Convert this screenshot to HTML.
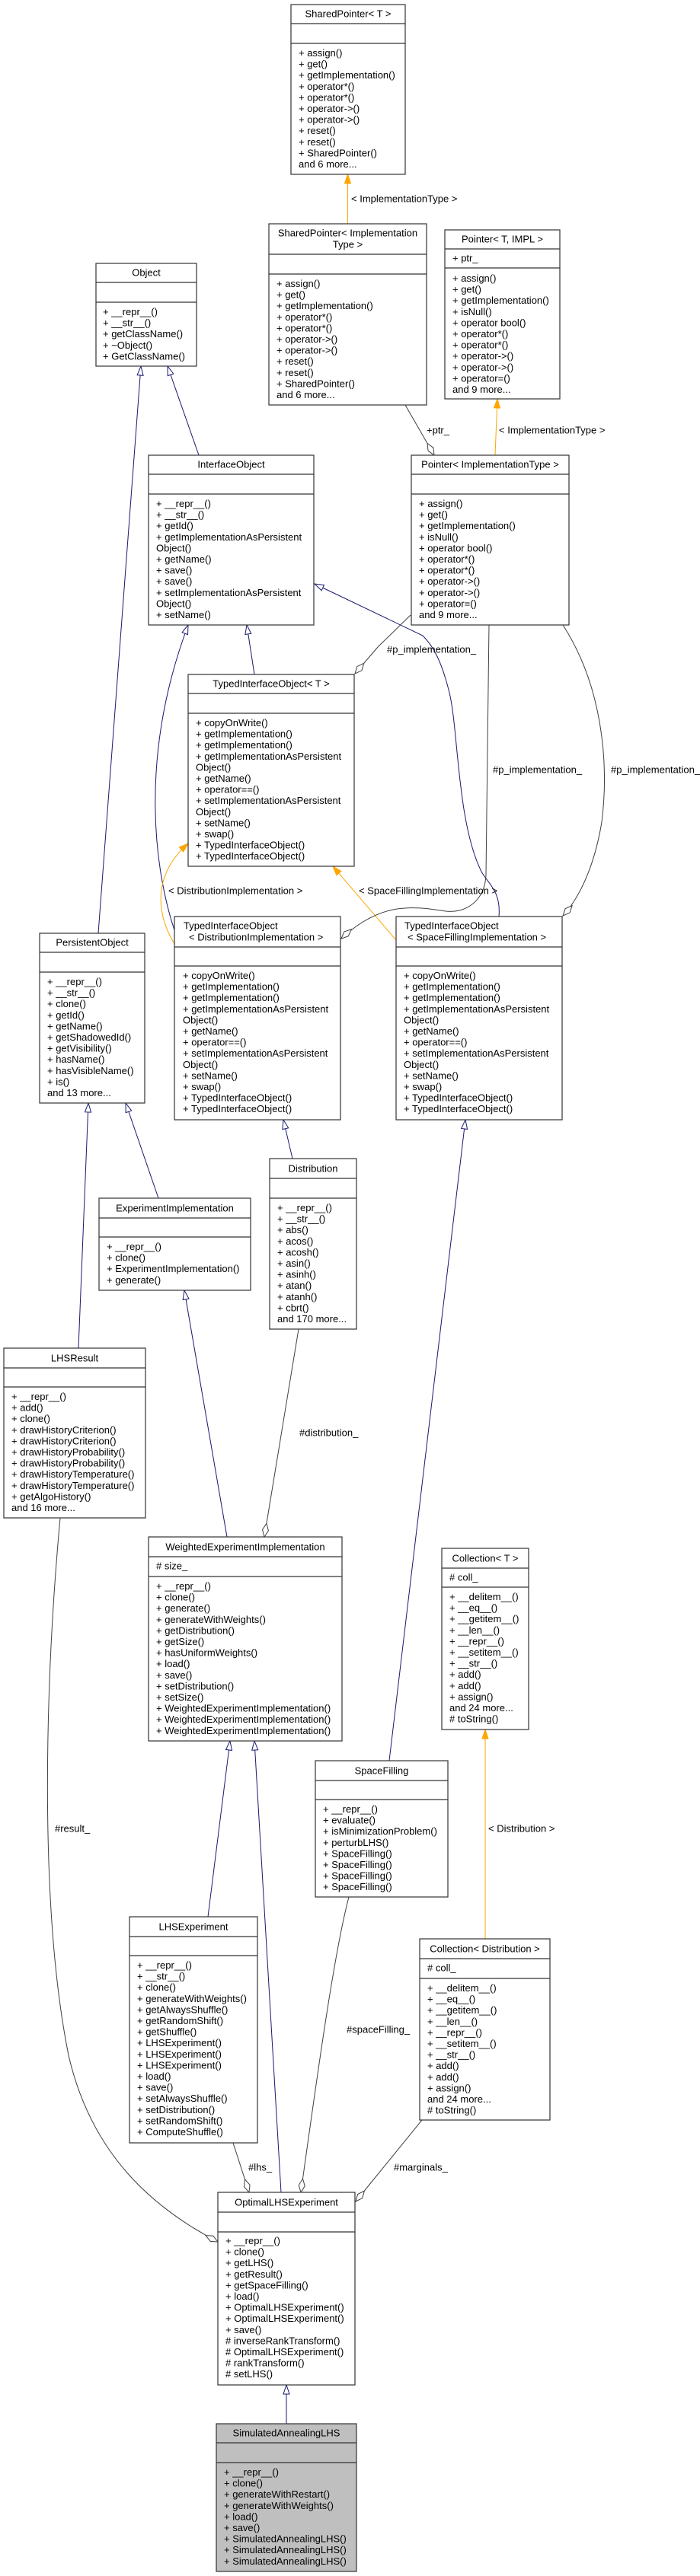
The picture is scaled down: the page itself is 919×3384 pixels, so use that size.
<!DOCTYPE html>
<html><head><meta charset="utf-8">
<style>
html,body{margin:0;padding:0;background:#fff;}
svg{display:block;}
text{font-family:"Liberation Sans",Arial,sans-serif;font-size:13px;fill:#000;dominant-baseline:central;}
.b{fill:#fff;stroke:#333;stroke-width:1.2;}
.g{fill:#bfbfbf;stroke:#333;stroke-width:1.2;}
.s{stroke:#333;stroke-width:1.2;}
.n{fill:none;stroke:#191970;stroke-width:1;}
.o{fill:none;stroke:#ffa500;stroke-width:1;}
.m{fill:none;stroke:#404040;stroke-width:1;}
</style></head><body>
<svg width="919" height="3384" viewBox="0 0 919 3384" xmlns="http://www.w3.org/2000/svg">
<defs>
<marker id="tri" viewBox="0 0 14 10" refX="13" refY="5" markerWidth="14" markerHeight="10" markerUnits="userSpaceOnUse" orient="auto"><path d="M1,1 L13,5 L1,9 Z" fill="#fff" stroke="#191970" stroke-width="1"/></marker>
<marker id="otri" viewBox="0 0 14 10" refX="13" refY="5" markerWidth="14" markerHeight="10" markerUnits="userSpaceOnUse" orient="auto"><path d="M1,1 L13,5 L1,9 Z" fill="#ffa500" stroke="#ffa500" stroke-width="1"/></marker>
<marker id="dia" viewBox="0 0 20 10" refX="19" refY="5" markerWidth="20" markerHeight="10" markerUnits="userSpaceOnUse" orient="auto"><path d="M1,5 L10,1 L19,5 L10,9 Z" fill="#fff" stroke="#404040" stroke-width="1"/></marker>
</defs>

<!-- edges: navy inheritance -->
<path class="n" marker-end="url(#tri)" d="M129,1226 L185,481"/>
<path class="n" marker-end="url(#tri)" d="M261,598 L220,481"/>
<path class="n" marker-end="url(#tri)" d="M334,886 L324,821"/>
<path class="n" marker-end="url(#tri)" d="M229,1222 C205,1150 180,1000 247,821"/>
<path class="n" marker-end="url(#tri)" d="M655,1204 C658,1170 640,1160 632,1145 C600,1080 602,960 590,910 C580,870 570,850 555,835 L413,767"/>
<path class="n" marker-end="url(#tri)" d="M384,1522 L372,1471"/>
<path class="n" marker-end="url(#tri)" d="M208,1574 L165,1449"/>
<path class="n" marker-end="url(#tri)" d="M103,1771 L116,1449"/>
<path class="n" marker-end="url(#tri)" d="M511,2313 L611,1471"/>
<path class="n" marker-end="url(#tri)" d="M298,2019 L242,1695"/>
<path class="n" marker-end="url(#tri)" d="M273,2518 L302,2287"/>
<path class="n" marker-end="url(#tri)" d="M369,2880 L334,2287"/>
<path class="n" marker-end="url(#tri)" d="M376,3184 L376,3133"/>

<!-- orange template -->
<path class="o" marker-end="url(#otri)" d="M456.5,294 L456.5,229"/>
<path class="o" marker-end="url(#otri)" d="M650,598 L653,524"/>
<path class="o" marker-end="url(#otri)" d="M229,1240 C205,1200 200,1150 247,1108"/>
<path class="o" marker-end="url(#otri)" d="M520,1235 L437,1138"/>
<path class="o" marker-end="url(#otri)" d="M637,2547 L637,2272"/>

<!-- member -->
<path class="m" marker-end="url(#dia)" d="M532,532 L570,598"/>
<path class="m" marker-end="url(#dia)" d="M539,808 L496,850 L466,885"/>
<path class="m" marker-end="url(#dia)" d="M642,821 L638,1150 C636,1185 610,1200 585,1197 C540,1190 500,1185 448,1233"/>
<path class="m" marker-end="url(#dia)" d="M739,821 C790,900 800,1000 790,1080 C780,1140 760,1180 739,1203"/>
<path class="m" marker-end="url(#dia)" d="M392,1746 L347,2019"/>
<path class="m" marker-end="url(#dia)" d="M79,1994 C60,2200 50,2500 90,2700 C120,2830 200,2900 286,2945"/>
<path class="m" marker-end="url(#dia)" d="M458,2492 C440,2560 420,2700 395,2880"/>
<path class="m" marker-end="url(#dia)" d="M306,2815 L327,2880"/>
<path class="m" marker-end="url(#dia)" d="M554,2785 L467,2892"/>

<!-- edge labels -->
<text x="461" y="261">&lt; ImplementationType &gt;</text>
<text x="655" y="565">&lt; ImplementationType &gt;</text>
<text x="560" y="565">+ptr_</text>
<text x="508" y="853">#p_implementation_</text>
<text x="647" y="1011">#p_implementation_</text>
<text x="802" y="1011">#p_implementation_</text>
<text x="221" y="1170">&lt; DistributionImplementation &gt;</text>
<text x="471" y="1170">&lt; SpaceFillingImplementation &gt;</text>
<text x="393" y="1882">#distribution_</text>
<text x="72" y="2402">#result_</text>
<text x="641" y="2402">&lt; Distribution &gt;</text>
<text x="455" y="2666">#spaceFilling_</text>
<text x="326" y="2847">#lhs_</text>
<text x="517" y="2847">#marginals_</text>

<!-- 1 SharedPointer<T> -->
<rect class="b" x="382" y="6" width="150" height="223"/>
<line class="s" x1="382" y1="31" x2="532" y2="31"/><line class="s" x1="382" y1="57" x2="532" y2="57"/>
<text x="457" y="18" text-anchor="middle">SharedPointer&lt; T &gt;</text>
<text x="392" y="69"><tspan x="392">+ assign()</tspan><tspan x="392" dy="14.6">+ get()</tspan><tspan x="392" dy="14.6">+ getImplementation()</tspan><tspan x="392" dy="14.6">+ operator*()</tspan><tspan x="392" dy="14.6">+ operator*()</tspan><tspan x="392" dy="14.6">+ operator-&gt;()</tspan><tspan x="392" dy="14.6">+ operator-&gt;()</tspan><tspan x="392" dy="14.6">+ reset()</tspan><tspan x="392" dy="14.6">+ reset()</tspan><tspan x="392" dy="14.6">+ SharedPointer()</tspan><tspan x="392" dy="14.6">and 6 more...</tspan></text>

<!-- 2 SharedPointer<Impl> -->
<rect class="b" x="353" y="294" width="207" height="238"/>
<line class="s" x1="353" y1="334" x2="560" y2="334"/><line class="s" x1="353" y1="360" x2="560" y2="360"/>
<text x="456.5" y="306" text-anchor="middle">SharedPointer&lt; Implementation</text>
<text x="456.5" y="321" text-anchor="middle">Type &gt;</text>
<text x="363" y="372"><tspan x="363">+ assign()</tspan><tspan x="363" dy="14.6">+ get()</tspan><tspan x="363" dy="14.6">+ getImplementation()</tspan><tspan x="363" dy="14.6">+ operator*()</tspan><tspan x="363" dy="14.6">+ operator*()</tspan><tspan x="363" dy="14.6">+ operator-&gt;()</tspan><tspan x="363" dy="14.6">+ operator-&gt;()</tspan><tspan x="363" dy="14.6">+ reset()</tspan><tspan x="363" dy="14.6">+ reset()</tspan><tspan x="363" dy="14.6">+ SharedPointer()</tspan><tspan x="363" dy="14.6">and 6 more...</tspan></text>

<!-- 3 Pointer<T, IMPL> -->
<rect class="b" x="584" y="302" width="151" height="222"/>
<line class="s" x1="584" y1="327" x2="735" y2="327"/><line class="s" x1="584" y1="352" x2="735" y2="352"/>
<text x="659.5" y="314" text-anchor="middle">Pointer&lt; T, IMPL &gt;</text>
<text x="594" y="339">+ ptr_</text>
<text x="594" y="365"><tspan x="594">+ assign()</tspan><tspan x="594" dy="14.6">+ get()</tspan><tspan x="594" dy="14.6">+ getImplementation()</tspan><tspan x="594" dy="14.6">+ isNull()</tspan><tspan x="594" dy="14.6">+ operator bool()</tspan><tspan x="594" dy="14.6">+ operator*()</tspan><tspan x="594" dy="14.6">+ operator*()</tspan><tspan x="594" dy="14.6">+ operator-&gt;()</tspan><tspan x="594" dy="14.6">+ operator-&gt;()</tspan><tspan x="594" dy="14.6">+ operator=()</tspan><tspan x="594" dy="14.6">and 9 more...</tspan></text>

<!-- 4 Object -->
<rect class="b" x="126" y="346" width="132" height="135"/>
<line class="s" x1="126" y1="371" x2="258" y2="371"/><line class="s" x1="126" y1="397" x2="258" y2="397"/>
<text x="192" y="358" text-anchor="middle">Object</text>
<text x="135" y="409"><tspan x="135">+ __repr__()</tspan><tspan x="135" dy="14.6">+ __str__()</tspan><tspan x="135" dy="14.6">+ getClassName()</tspan><tspan x="135" dy="14.6">+ ~Object()</tspan><tspan x="135" dy="14.6">+ GetClassName()</tspan></text>

<!-- 5 InterfaceObject -->
<rect class="b" x="195" y="598" width="217" height="223"/>
<line class="s" x1="195" y1="623" x2="412" y2="623"/><line class="s" x1="195" y1="649" x2="412" y2="649"/>
<text x="303.5" y="610" text-anchor="middle">InterfaceObject</text>
<text x="205" y="661"><tspan x="205">+ __repr__()</tspan><tspan x="205" dy="14.6">+ __str__()</tspan><tspan x="205" dy="14.6">+ getId()</tspan><tspan x="205" dy="14.6">+ getImplementationAsPersistent</tspan><tspan x="205" dy="14.6">Object()</tspan><tspan x="205" dy="14.6">+ getName()</tspan><tspan x="205" dy="14.6">+ save()</tspan><tspan x="205" dy="14.6">+ save()</tspan><tspan x="205" dy="14.6">+ setImplementationAsPersistent</tspan><tspan x="205" dy="14.6">Object()</tspan><tspan x="205" dy="14.6">+ setName()</tspan></text>

<!-- 6 Pointer<ImplementationType> -->
<rect class="b" x="540" y="598" width="207" height="223"/>
<line class="s" x1="540" y1="623" x2="747" y2="623"/><line class="s" x1="540" y1="649" x2="747" y2="649"/>
<text x="643.5" y="610" text-anchor="middle">Pointer&lt; ImplementationType &gt;</text>
<text x="550" y="661"><tspan x="550">+ assign()</tspan><tspan x="550" dy="14.6">+ get()</tspan><tspan x="550" dy="14.6">+ getImplementation()</tspan><tspan x="550" dy="14.6">+ isNull()</tspan><tspan x="550" dy="14.6">+ operator bool()</tspan><tspan x="550" dy="14.6">+ operator*()</tspan><tspan x="550" dy="14.6">+ operator*()</tspan><tspan x="550" dy="14.6">+ operator-&gt;()</tspan><tspan x="550" dy="14.6">+ operator-&gt;()</tspan><tspan x="550" dy="14.6">+ operator=()</tspan><tspan x="550" dy="14.6">and 9 more...</tspan></text>

<!-- 7 TypedInterfaceObject<T> -->
<rect class="b" x="247" y="886" width="218" height="252"/>
<line class="s" x1="247" y1="911" x2="465" y2="911"/><line class="s" x1="247" y1="937" x2="465" y2="937"/>
<text x="356" y="898" text-anchor="middle">TypedInterfaceObject&lt; T &gt;</text>
<text x="257" y="949"><tspan x="257">+ copyOnWrite()</tspan><tspan x="257" dy="14.6">+ getImplementation()</tspan><tspan x="257" dy="14.6">+ getImplementation()</tspan><tspan x="257" dy="14.6">+ getImplementationAsPersistent</tspan><tspan x="257" dy="14.6">Object()</tspan><tspan x="257" dy="14.6">+ getName()</tspan><tspan x="257" dy="14.6">+ operator==()</tspan><tspan x="257" dy="14.6">+ setImplementationAsPersistent</tspan><tspan x="257" dy="14.6">Object()</tspan><tspan x="257" dy="14.6">+ setName()</tspan><tspan x="257" dy="14.6">+ swap()</tspan><tspan x="257" dy="14.6">+ TypedInterfaceObject()</tspan><tspan x="257" dy="14.6">+ TypedInterfaceObject()</tspan></text>

<!-- 8 TIO<Dist> -->
<rect class="b" x="229" y="1204" width="218" height="267"/>
<line class="s" x1="229" y1="1244" x2="447" y2="1244"/><line class="s" x1="229" y1="1269" x2="447" y2="1269"/>
<text x="241" y="1216">TypedInterfaceObject</text>
<text x="248" y="1231">&lt; DistributionImplementation &gt;</text>
<text x="240" y="1281"><tspan x="240">+ copyOnWrite()</tspan><tspan x="240" dy="14.6">+ getImplementation()</tspan><tspan x="240" dy="14.6">+ getImplementation()</tspan><tspan x="240" dy="14.6">+ getImplementationAsPersistent</tspan><tspan x="240" dy="14.6">Object()</tspan><tspan x="240" dy="14.6">+ getName()</tspan><tspan x="240" dy="14.6">+ operator==()</tspan><tspan x="240" dy="14.6">+ setImplementationAsPersistent</tspan><tspan x="240" dy="14.6">Object()</tspan><tspan x="240" dy="14.6">+ setName()</tspan><tspan x="240" dy="14.6">+ swap()</tspan><tspan x="240" dy="14.6">+ TypedInterfaceObject()</tspan><tspan x="240" dy="14.6">+ TypedInterfaceObject()</tspan></text>

<!-- 9 TIO<SF> -->
<rect class="b" x="520" y="1204" width="218" height="267"/>
<line class="s" x1="520" y1="1244" x2="738" y2="1244"/><line class="s" x1="520" y1="1269" x2="738" y2="1269"/>
<text x="531" y="1216">TypedInterfaceObject</text>
<text x="535" y="1231">&lt; SpaceFillingImplementation &gt;</text>
<text x="530" y="1281"><tspan x="530">+ copyOnWrite()</tspan><tspan x="530" dy="14.6">+ getImplementation()</tspan><tspan x="530" dy="14.6">+ getImplementation()</tspan><tspan x="530" dy="14.6">+ getImplementationAsPersistent</tspan><tspan x="530" dy="14.6">Object()</tspan><tspan x="530" dy="14.6">+ getName()</tspan><tspan x="530" dy="14.6">+ operator==()</tspan><tspan x="530" dy="14.6">+ setImplementationAsPersistent</tspan><tspan x="530" dy="14.6">Object()</tspan><tspan x="530" dy="14.6">+ setName()</tspan><tspan x="530" dy="14.6">+ swap()</tspan><tspan x="530" dy="14.6">+ TypedInterfaceObject()</tspan><tspan x="530" dy="14.6">+ TypedInterfaceObject()</tspan></text>

<!-- 10 PersistentObject -->
<rect class="b" x="52" y="1226" width="138" height="223"/>
<line class="s" x1="52" y1="1251" x2="190" y2="1251"/><line class="s" x1="52" y1="1277" x2="190" y2="1277"/>
<text x="121" y="1238" text-anchor="middle">PersistentObject</text>
<text x="62" y="1289"><tspan x="62">+ __repr__()</tspan><tspan x="62" dy="14.6">+ __str__()</tspan><tspan x="62" dy="14.6">+ clone()</tspan><tspan x="62" dy="14.6">+ getId()</tspan><tspan x="62" dy="14.6">+ getName()</tspan><tspan x="62" dy="14.6">+ getShadowedId()</tspan><tspan x="62" dy="14.6">+ getVisibility()</tspan><tspan x="62" dy="14.6">+ hasName()</tspan><tspan x="62" dy="14.6">+ hasVisibleName()</tspan><tspan x="62" dy="14.6">+ is()</tspan><tspan x="62" dy="14.6">and 13 more...</tspan></text>

<!-- 11 Distribution -->
<rect class="b" x="354" y="1522" width="114" height="224"/>
<line class="s" x1="354" y1="1548" x2="468" y2="1548"/><line class="s" x1="354" y1="1574" x2="468" y2="1574"/>
<text x="411" y="1535" text-anchor="middle">Distribution</text>
<text x="364" y="1586"><tspan x="364">+ __repr__()</tspan><tspan x="364" dy="14.6">+ __str__()</tspan><tspan x="364" dy="14.6">+ abs()</tspan><tspan x="364" dy="14.6">+ acos()</tspan><tspan x="364" dy="14.6">+ acosh()</tspan><tspan x="364" dy="14.6">+ asin()</tspan><tspan x="364" dy="14.6">+ asinh()</tspan><tspan x="364" dy="14.6">+ atan()</tspan><tspan x="364" dy="14.6">+ atanh()</tspan><tspan x="364" dy="14.6">+ cbrt()</tspan><tspan x="364" dy="14.6">and 170 more...</tspan></text>

<!-- 12 ExperimentImplementation -->
<rect class="b" x="130" y="1574" width="199" height="121"/>
<line class="s" x1="130" y1="1600" x2="329" y2="1600"/><line class="s" x1="130" y1="1625" x2="329" y2="1625"/>
<text x="229.5" y="1587" text-anchor="middle">ExperimentImplementation</text>
<text x="140" y="1637"><tspan x="140">+ __repr__()</tspan><tspan x="140" dy="14.6">+ clone()</tspan><tspan x="140" dy="14.6">+ ExperimentImplementation()</tspan><tspan x="140" dy="14.6">+ generate()</tspan></text>

<!-- 13 LHSResult -->
<rect class="b" x="5" y="1771" width="186" height="223"/>
<line class="s" x1="5" y1="1797" x2="191" y2="1797"/><line class="s" x1="5" y1="1822" x2="191" y2="1822"/>
<text x="98" y="1784" text-anchor="middle">LHSResult</text>
<text x="15" y="1834"><tspan x="15">+ __repr__()</tspan><tspan x="15" dy="14.6">+ add()</tspan><tspan x="15" dy="14.6">+ clone()</tspan><tspan x="15" dy="14.6">+ drawHistoryCriterion()</tspan><tspan x="15" dy="14.6">+ drawHistoryCriterion()</tspan><tspan x="15" dy="14.6">+ drawHistoryProbability()</tspan><tspan x="15" dy="14.6">+ drawHistoryProbability()</tspan><tspan x="15" dy="14.6">+ drawHistoryTemperature()</tspan><tspan x="15" dy="14.6">+ drawHistoryTemperature()</tspan><tspan x="15" dy="14.6">+ getAlgoHistory()</tspan><tspan x="15" dy="14.6">and 16 more...</tspan></text>

<!-- 14 WeightedExperimentImplementation -->
<rect class="b" x="195" y="2019" width="254" height="268"/>
<line class="s" x1="195" y1="2045" x2="449" y2="2045"/><line class="s" x1="195" y1="2071" x2="449" y2="2071"/>
<text x="322" y="2032" text-anchor="middle">WeightedExperimentImplementation</text>
<text x="205" y="2057"># size_</text>
<text x="205" y="2083"><tspan x="205">+ __repr__()</tspan><tspan x="205" dy="14.6">+ clone()</tspan><tspan x="205" dy="14.6">+ generate()</tspan><tspan x="205" dy="14.6">+ generateWithWeights()</tspan><tspan x="205" dy="14.6">+ getDistribution()</tspan><tspan x="205" dy="14.6">+ getSize()</tspan><tspan x="205" dy="14.6">+ hasUniformWeights()</tspan><tspan x="205" dy="14.6">+ load()</tspan><tspan x="205" dy="14.6">+ save()</tspan><tspan x="205" dy="14.6">+ setDistribution()</tspan><tspan x="205" dy="14.6">+ setSize()</tspan><tspan x="205" dy="14.6">+ WeightedExperimentImplementation()</tspan><tspan x="205" dy="14.6">+ WeightedExperimentImplementation()</tspan><tspan x="205" dy="14.6">+ WeightedExperimentImplementation()</tspan></text>

<!-- 15 Collection<T> -->
<rect class="b" x="580" y="2034" width="114" height="238"/>
<line class="s" x1="580" y1="2060" x2="694" y2="2060"/><line class="s" x1="580" y1="2085" x2="694" y2="2085"/>
<text x="637" y="2047" text-anchor="middle">Collection&lt; T &gt;</text>
<text x="590" y="2072"># coll_</text>
<text x="590" y="2097"><tspan x="590">+ __delitem__()</tspan><tspan x="590" dy="14.6">+ __eq__()</tspan><tspan x="590" dy="14.6">+ __getitem__()</tspan><tspan x="590" dy="14.6">+ __len__()</tspan><tspan x="590" dy="14.6">+ __repr__()</tspan><tspan x="590" dy="14.6">+ __setitem__()</tspan><tspan x="590" dy="14.6">+ __str__()</tspan><tspan x="590" dy="14.6">+ add()</tspan><tspan x="590" dy="14.6">+ add()</tspan><tspan x="590" dy="14.6">+ assign()</tspan><tspan x="590" dy="14.6">and 24 more...</tspan><tspan x="590" dy="14.6"># toString()</tspan></text>

<!-- 16 SpaceFilling -->
<rect class="b" x="414" y="2313" width="174" height="179"/>
<line class="s" x1="414" y1="2339" x2="588" y2="2339"/><line class="s" x1="414" y1="2364" x2="588" y2="2364"/>
<text x="501" y="2326" text-anchor="middle">SpaceFilling</text>
<text x="424" y="2376"><tspan x="424">+ __repr__()</tspan><tspan x="424" dy="14.6">+ evaluate()</tspan><tspan x="424" dy="14.6">+ isMinimizationProblem()</tspan><tspan x="424" dy="14.6">+ perturbLHS()</tspan><tspan x="424" dy="14.6">+ SpaceFilling()</tspan><tspan x="424" dy="14.6">+ SpaceFilling()</tspan><tspan x="424" dy="14.6">+ SpaceFilling()</tspan><tspan x="424" dy="14.6">+ SpaceFilling()</tspan></text>

<!-- 17 LHSExperiment -->
<rect class="b" x="170" y="2518" width="168" height="297"/>
<line class="s" x1="170" y1="2544" x2="338" y2="2544"/><line class="s" x1="170" y1="2569" x2="338" y2="2569"/>
<text x="254" y="2531" text-anchor="middle">LHSExperiment</text>
<text x="180" y="2581"><tspan x="180">+ __repr__()</tspan><tspan x="180" dy="14.6">+ __str__()</tspan><tspan x="180" dy="14.6">+ clone()</tspan><tspan x="180" dy="14.6">+ generateWithWeights()</tspan><tspan x="180" dy="14.6">+ getAlwaysShuffle()</tspan><tspan x="180" dy="14.6">+ getRandomShift()</tspan><tspan x="180" dy="14.6">+ getShuffle()</tspan><tspan x="180" dy="14.6">+ LHSExperiment()</tspan><tspan x="180" dy="14.6">+ LHSExperiment()</tspan><tspan x="180" dy="14.6">+ LHSExperiment()</tspan><tspan x="180" dy="14.6">+ load()</tspan><tspan x="180" dy="14.6">+ save()</tspan><tspan x="180" dy="14.6">+ setAlwaysShuffle()</tspan><tspan x="180" dy="14.6">+ setDistribution()</tspan><tspan x="180" dy="14.6">+ setRandomShift()</tspan><tspan x="180" dy="14.6">+ ComputeShuffle()</tspan></text>

<!-- 18 Collection<Distribution> -->
<rect class="b" x="551" y="2547" width="171" height="238"/>
<line class="s" x1="551" y1="2573" x2="722" y2="2573"/><line class="s" x1="551" y1="2599" x2="722" y2="2599"/>
<text x="636.5" y="2560" text-anchor="middle">Collection&lt; Distribution &gt;</text>
<text x="561" y="2585"># coll_</text>
<text x="561" y="2611"><tspan x="561">+ __delitem__()</tspan><tspan x="561" dy="14.6">+ __eq__()</tspan><tspan x="561" dy="14.6">+ __getitem__()</tspan><tspan x="561" dy="14.6">+ __len__()</tspan><tspan x="561" dy="14.6">+ __repr__()</tspan><tspan x="561" dy="14.6">+ __setitem__()</tspan><tspan x="561" dy="14.6">+ __str__()</tspan><tspan x="561" dy="14.6">+ add()</tspan><tspan x="561" dy="14.6">+ add()</tspan><tspan x="561" dy="14.6">+ assign()</tspan><tspan x="561" dy="14.6">and 24 more...</tspan><tspan x="561" dy="14.6"># toString()</tspan></text>

<!-- 19 OptimalLHSExperiment -->
<rect class="b" x="286" y="2880" width="180" height="253"/>
<line class="s" x1="286" y1="2906" x2="466" y2="2906"/><line class="s" x1="286" y1="2932" x2="466" y2="2932"/>
<text x="376" y="2893" text-anchor="middle">OptimalLHSExperiment</text>
<text x="296" y="2943"><tspan x="296">+ __repr__()</tspan><tspan x="296" dy="14.6">+ clone()</tspan><tspan x="296" dy="14.6">+ getLHS()</tspan><tspan x="296" dy="14.6">+ getResult()</tspan><tspan x="296" dy="14.6">+ getSpaceFilling()</tspan><tspan x="296" dy="14.6">+ load()</tspan><tspan x="296" dy="14.6">+ OptimalLHSExperiment()</tspan><tspan x="296" dy="14.6">+ OptimalLHSExperiment()</tspan><tspan x="296" dy="14.6">+ save()</tspan><tspan x="296" dy="14.6"># inverseRankTransform()</tspan><tspan x="296" dy="14.6"># OptimalLHSExperiment()</tspan><tspan x="296" dy="14.6"># rankTransform()</tspan><tspan x="296" dy="14.6"># setLHS()</tspan></text>

<!-- 20 SimulatedAnnealingLHS -->
<rect class="g" x="284" y="3184" width="184" height="194"/>
<line class="s" x1="284" y1="3209" x2="468" y2="3209"/><line class="s" x1="284" y1="3235" x2="468" y2="3235"/>
<text x="376" y="3196" text-anchor="middle">SimulatedAnnealingLHS</text>
<text x="294" y="3247"><tspan x="294">+ __repr__()</tspan><tspan x="294" dy="14.6">+ clone()</tspan><tspan x="294" dy="14.6">+ generateWithRestart()</tspan><tspan x="294" dy="14.6">+ generateWithWeights()</tspan><tspan x="294" dy="14.6">+ load()</tspan><tspan x="294" dy="14.6">+ save()</tspan><tspan x="294" dy="14.6">+ SimulatedAnnealingLHS()</tspan><tspan x="294" dy="14.6">+ SimulatedAnnealingLHS()</tspan><tspan x="294" dy="14.6">+ SimulatedAnnealingLHS()</tspan></text>
</svg>
</body></html>
